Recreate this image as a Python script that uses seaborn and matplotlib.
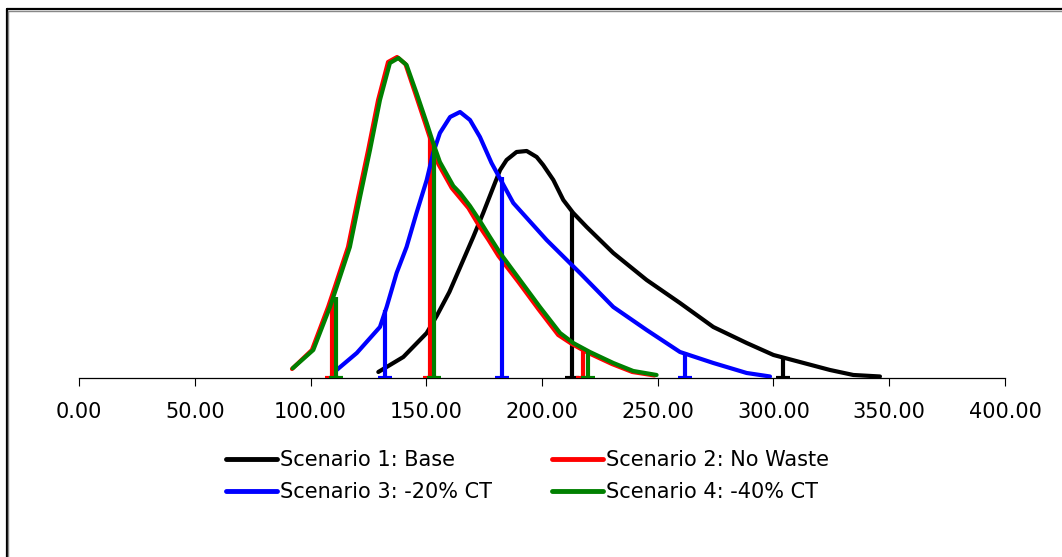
import matplotlib
matplotlib.use("Agg")
import matplotlib.pyplot as plt
from matplotlib.lines import Line2D
import seaborn as sns
import pandas as pd

# ---- data (relative frequency) ----
s1_x = [129.3, 140.1, 150.2, 154.5, 160.0, 166.0, 170.3, 174.6, 179.0, 181.9, 184.7, 189.0, 193.4, 197.7,
        200.5, 204.9, 209.2, 213.5, 219.3, 230.8, 245.2, 259.6, 274.0, 288.4, 300.0, 311.4, 324.4, 334.5, 346.0]
s1_y = [0.0006, 0.0021, 0.0045, 0.0062, 0.0086, 0.0118, 0.0141, 0.0165, 0.0191, 0.0208, 0.0218, 0.0226,
        0.0227, 0.0221, 0.0213, 0.0198, 0.0178, 0.0165, 0.0151, 0.0125, 0.0098, 0.0075, 0.0051, 0.0035,
        0.0023, 0.0016, 0.0008, 0.0003, 0.00015]

s2_x = [92.0, 100.6, 107.6, 110.5, 116.2, 120.6, 124.9, 129.2, 133.5, 137.4, 141.0, 145.2, 149.5, 152.3,
        155.2, 161.0, 168.2, 172.6, 176.9, 181.2, 189.8, 198.4, 207.0, 212.9, 220.0, 230.2, 239.0, 248.6]
s2_y = [0.0009, 0.0028, 0.0071, 0.0091, 0.0131, 0.0181, 0.0228, 0.0278, 0.0316, 0.0321, 0.0314, 0.0285,
        0.0255, 0.0235, 0.0214, 0.0190, 0.0170, 0.0153, 0.0138, 0.0122, 0.0096, 0.0069, 0.0043, 0.0034,
        0.0025, 0.0014, 0.0006, 0.00025]

s3_x = [111.3, 120.0, 130.0, 132.9, 137.2, 141.5, 145.8, 150.2, 153.0, 155.9, 160.3, 164.6, 168.9, 173.2,
        178.2, 187.6, 202.0, 216.4, 230.8, 245.2, 259.6, 274.0, 288.4, 298.5]
s3_y = [0.0008, 0.0025, 0.0051, 0.0071, 0.0105, 0.0131, 0.0165, 0.0198, 0.0225, 0.0245, 0.0261, 0.0266,
        0.0258, 0.0241, 0.0215, 0.0175, 0.0138, 0.0105, 0.0071, 0.0048, 0.0026, 0.0015, 0.0005, 0.00015]

s4_x = [92.3, 101.2, 108.4, 111.3, 117.0, 121.4, 125.7, 130.0, 134.3, 138.0, 141.5, 145.8, 150.2, 153.0,
        155.9, 161.7, 164.6, 168.9, 173.2, 177.5, 181.9, 190.5, 199.1, 207.8, 213.5, 220.7, 230.8, 239.4, 249.5]
s4_y = [0.00097, 0.0028, 0.0071, 0.0091, 0.0131, 0.0181, 0.0228, 0.0278, 0.0315, 0.0320, 0.0313, 0.0285,
        0.0255, 0.0235, 0.0216, 0.0192, 0.0185, 0.0172, 0.0157, 0.0141, 0.0125, 0.0098, 0.0071, 0.0045,
        0.0035, 0.0026, 0.0015, 0.0007, 0.0003]

# percentile markers (vertical lines)
s1_marks_x = [212.8, 304.2]
s1_marks_y = [0.0166, 0.0021]
s2_marks_x = [109.1, 151.6, 217.8]
s2_marks_y = [0.0078, 0.0240, 0.0031]
s3_marks_x = [132.2, 182.6, 261.8]
s3_marks_y = [0.0068, 0.0201, 0.0026]
s4_marks_x = [110.9, 153.3, 220.0]
s4_marks_y = [0.0081, 0.0235, 0.0028]

labels = ["Scenario 1: Base", "Scenario 2: No Waste", "Scenario 3: -20% CT", "Scenario 4: -40% CT"]
colors = ["#000000", "#ff0000", "#0000ff", "#008000"]
x_ticks = [0, 50, 100, 150, 200, 250, 300, 350, 400]

# ---- style ----
sns.set_style("white")
plt.rcParams["font.family"] = ["DejaVu Sans"]
plt.rcParams["text.color"] = "black"

fig = plt.figure(figsize=(10.62, 5.57), dpi=100)
ax = fig.add_axes([0.0744, 0.3214, 0.8719, 0.6427])

series = [(s1_x, s1_y, s1_marks_x, s1_marks_y),
          (s2_x, s2_y, s2_marks_x, s2_marks_y),
          (s3_x, s3_y, s3_marks_x, s3_marks_y),
          (s4_x, s4_y, s4_marks_x, s4_marks_y)]

lw = 3.0
foot = 3.0
for i, (xs, ys, mx, my) in enumerate(series):
    df = pd.DataFrame({"x": xs, "y": ys})
    sns.lineplot(data=df, x="x", y="y", ax=ax, color=colors[i], lw=lw, sort=False,
                 label=labels[i], zorder=2 + i, solid_joinstyle="round", solid_capstyle="round")
    ax.vlines(mx, 0, my, colors=colors[i], lw=lw, zorder=2 + i)
    ax.hlines([0] * len(mx), [v - foot for v in mx], [v + foot for v in mx],
              colors=colors[i], lw=lw, zorder=2 + i)

ax.set_xlim(0, 400)
ax.set_ylim(0, 0.0358)
ax.set_xticks(x_ticks)
ax.set_xticklabels([f"{v:.2f}" for v in x_ticks], fontsize=15, color="black")
ax.set_yticks([])
ax.set_xlabel("")
ax.set_ylabel("")
for side in ["top", "right", "left"]:
    ax.spines[side].set_visible(False)
ax.spines["bottom"].set_color("#000000")
ax.spines["bottom"].set_linewidth(0.9)
ax.spines["bottom"].set_zorder(1)
ax.tick_params(axis="x", direction="out", length=6, width=0.8, color="#000000", pad=11.5,
               bottom=True, labelcolor="#000000")
ax.patch.set_alpha(0)

# legend
if ax.get_legend() is not None:
    ax.get_legend().remove()
order = [0, 2, 1, 3]
leg = fig.legend([Line2D([], [], color=colors[k], lw=3.5) for k in order],
                 [labels[k] for k in order],
                 loc="upper left", bbox_to_anchor=(226 / 1062, 1 - 450 / 557), ncol=2, frameon=False,
                 fontsize=15, handlelength=2.45, handletextpad=0.12, columnspacing=2.9,
                 labelspacing=0.58, borderaxespad=0, borderpad=0)
for t in leg.get_texts():
    t.set_color("black")

# chart frame (top & left edges)
fig.add_artist(Line2D([6.5 / 1062, 1.0], [1 - 9 / 557, 1 - 9 / 557], color="black", lw=1.6,
                      transform=fig.transFigure))
fig.add_artist(Line2D([8 / 1062, 1.0], [1 - 10.7 / 557, 1 - 10.7 / 557], color="#888888", lw=1.0,
                      transform=fig.transFigure))
fig.add_artist(Line2D([6.5 / 1062, 6.5 / 1062], [0, 1 - 9 / 557], color="black", lw=1.6,
                      transform=fig.transFigure))
fig.add_artist(Line2D([8.2 / 1062, 8.2 / 1062], [0, 1 - 10.7 / 557], color="#888888", lw=1.0,
                      transform=fig.transFigure))

fig.savefig("out.png", dpi=100, facecolor="white")
